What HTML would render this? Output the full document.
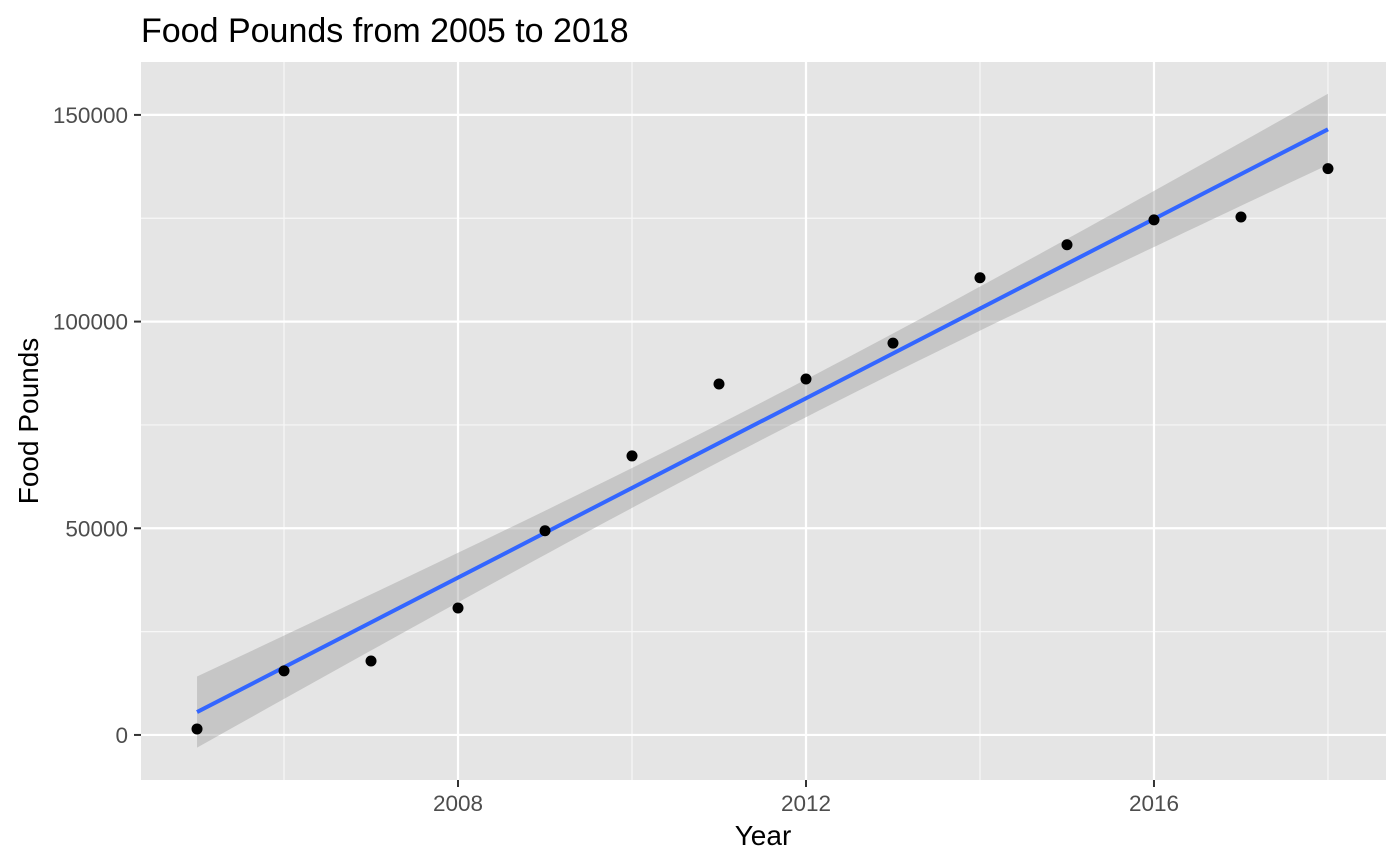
<!DOCTYPE html>
<html><head><meta charset="utf-8"><style>
body{margin:0;background:#fff;}
svg{display:block;font-family:"Liberation Sans",Arial,sans-serif;}
</style></head><body>
<svg id="chart" width="1400" height="865">
<text x="141" y="42" font-size="34" fill="#000">Food Pounds from 2005 to 2018</text>
<rect x="141" y="62" width="1245" height="718" fill="#e5e5e5"/>
<g id="grid"></g>
<g id="band"></g>
<g id="fit"></g>
<g id="pts"></g>
<g id="axes"></g>
<text x="763" y="845" font-size="28" text-anchor="middle" fill="#000">Year</text>
<text transform="translate(38,421) rotate(-90)" font-size="28" text-anchor="middle" fill="#000">Food Pounds</text>
</svg>
<script>
const years=[2005,2006,2007,2008,2009,2010,2011,2012,2013,2014,2015,2016,2017,2018];
const pounds=[1450,15500,17900,30700,49400,67500,84900,86100,94800,110600,118600,124600,125300,137000];
const xTicks=[2008,2012,2016];
const xMinor=[2006,2010,2014,2018];
const yTicks=[0,50000,100000,150000];
const yMinor=[25000,75000,125000];
const NS="http://www.w3.org/2000/svg";
const X0=141,X1=1386,Y0=62,Y1=780;
const xmin=2004.356,xmax=2018.667,ymin=-10900,ymax=162800;
const sx=v=>X0+(v-xmin)/(xmax-xmin)*(X1-X0);
const sy=v=>Y1-(v-ymin)/(ymax-ymin)*(Y1-Y0);
function mk(t,a,p){const e=document.createElementNS(NS,t);for(const k in a)e.setAttribute(k,a[k]);p.appendChild(e);return e;}
const grid=document.getElementById('grid'),axes=document.getElementById('axes');
xMinor.forEach(v=>{const l=mk('line',{x1:sx(v),x2:sx(v),y1:Y0,y2:Y1,stroke:'#f7f7f7','stroke-width':1.2},grid);
});
yMinor.forEach(v=>{const l=mk('line',{x1:X0,x2:X1,y1:sy(v),y2:sy(v),stroke:'#f7f7f7','stroke-width':1.2},grid);
});
xTicks.forEach(v=>{const l=mk('line',{x1:sx(v),x2:sx(v),y1:Y0,y2:Y1,stroke:'#fff','stroke-width':2.2},grid);

const t=mk('line',{x1:sx(v),x2:sx(v),y1:Y1,y2:Y1+7,stroke:'#333','stroke-width':2},axes);

const tx=mk('text',{x:sx(v),y:Y1+31,'font-size':22.5,'text-anchor':'middle',fill:'#4d4d4d'},axes);tx.textContent=v;
});
yTicks.forEach(v=>{const l=mk('line',{x1:X0,x2:X1,y1:sy(v),y2:sy(v),stroke:'#fff','stroke-width':2.2},grid);

const t=mk('line',{x1:X0-7,x2:X0,y1:sy(v),y2:sy(v),stroke:'#333','stroke-width':2},axes);

const tx=mk('text',{x:X0-13,y:sy(v)+8,'font-size':22.5,'text-anchor':'end',fill:'#4d4d4d'},axes);tx.textContent=v;
});
const n=years.length,mx=years.reduce((a,b)=>a+b)/n,my=pounds.reduce((a,b)=>a+b)/n;
let sxx=0,sxy=0;years.forEach((x,i)=>{sxx+=(x-mx)**2;sxy+=(x-mx)*(pounds[i]-my);});
const b=sxy/sxx,a=my-b*mx;
let sse=0;years.forEach((x,i)=>{sse+=(pounds[i]-a-b*x)**2;});
const s=Math.sqrt(sse/(n-2)),tq=2.179;
const lo=years[0],hi=years[n-1],up=[],dn=[];
for(let k=0;k<=80;k++){const x=lo+(hi-lo)*k/80,f=a+b*x,se=s*Math.sqrt(1/n+(x-mx)**2/sxx);
up.push(sx(x)+','+sy(f+tq*se));dn.unshift(sx(x)+','+sy(f-tq*se));}
const band=mk('polygon',{points:up.concat(dn).join(' '),fill:'#999','fill-opacity':0.4},document.getElementById('band'));

const fl=mk('line',{x1:sx(lo),y1:sy(a+b*lo),x2:sx(hi),y2:sy(a+b*hi),stroke:'#3366ff','stroke-width':4},document.getElementById('fit'));

const pts=document.getElementById('pts');
years.forEach((x,i)=>{const c=mk('circle',{cx:sx(x),cy:sy(pounds[i]),r:5.5,fill:'#000'},pts);
});
</script>
</body></html>
